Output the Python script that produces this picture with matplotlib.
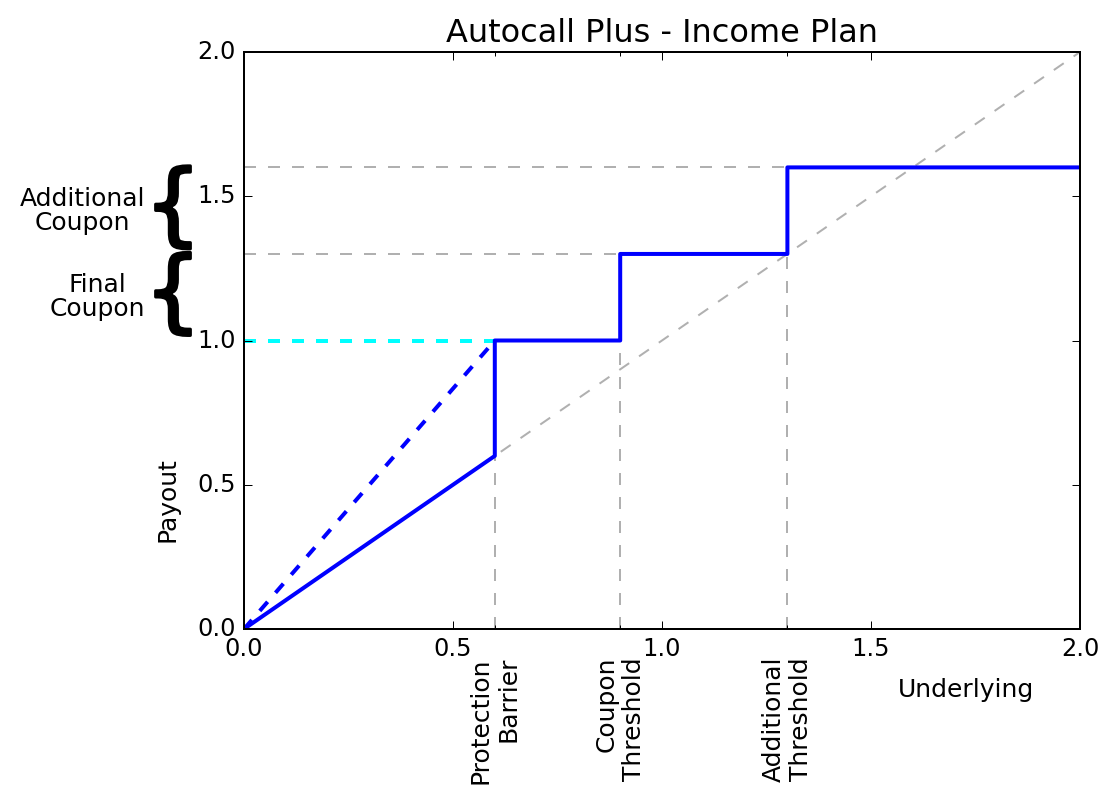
import matplotlib
matplotlib.use("Agg")
import matplotlib.pyplot as plt
import matplotlib.transforms as mtransforms
import matplotlib.patheffects as pe

plt.style.use("classic")

# Payoff profile of the plan
barrier = 0.6
coupon_threshold = 0.9
additional_threshold = 1.3
capital_level = 1.0
final_coupon_level = 1.3
additional_coupon_level = 1.6

payout_x = [0.0, barrier, barrier, coupon_threshold, coupon_threshold,
            additional_threshold, additional_threshold, 2.0]
payout_y = [0.0, barrier, capital_level, capital_level, final_coupon_level,
            final_coupon_level, additional_coupon_level, additional_coupon_level]

protected_x = [0.0, barrier]
protected_y = [0.0, capital_level]

threshold_ticks = [barrier, coupon_threshold, additional_threshold]
threshold_labels = ["Protection\nBarrier", "Coupon\nThreshold", "Additional\nThreshold"]
major_ticks = [0.0, 0.5, 1.0, 1.5, 2.0]

fig = plt.figure(figsize=(1102 / 144, 793 / 144), dpi=144)
fig.patch.set_facecolor("white")
ax = fig.add_axes([244 / 1102, 1 - 629 / 793, 836 / 1102, 577 / 793])

grey = dict(color="#b0b0b0", linestyle="--", linewidth=1.0)

# reference guides
ax.plot([0, 2], [0, 2], **grey)
ax.plot([0, additional_threshold], [additional_coupon_level] * 2, **grey)
ax.plot([0, coupon_threshold], [final_coupon_level] * 2, **grey)
ax.plot([barrier, barrier], [0, barrier], **grey)
ax.plot([coupon_threshold, coupon_threshold], [0, capital_level], **grey)
ax.plot([additional_threshold, additional_threshold], [0, final_coupon_level], **grey)

# payout lines
ax.plot([0, barrier], [capital_level, capital_level], color="cyan",
        linestyle="--", linewidth=2)
ax.plot(protected_x, protected_y, color="blue", linestyle="--", linewidth=2)
ax.plot(payout_x, payout_y, color="blue", linewidth=2)

ax.set_xlim(0, 2)
ax.set_ylim(0, 2)
ax.set_xticks(major_ticks)
ax.set_yticks(major_ticks)
ax.set_xticks(threshold_ticks, minor=True)
ax.set_xticklabels(threshold_labels, minor=True, rotation=90,
                   multialignment="right", fontsize=12.5)
ax.tick_params(axis="x", which="minor", pad=14)

ax.set_title("Autocall Plus - Income Plan", fontsize=16)
ax.set_xlabel("Underlying", fontsize=12.5)
ax.xaxis.set_label_coords((966 - 244) / 836, (629 - 678) / 577)
ax.set_ylabel("Payout", fontsize=12.5)
ax.yaxis.set_label_coords((179 - 244) / 836, (629 - 500) / 577)

# coupon brackets on the left of the axis
trans = mtransforms.blended_transform_factory(ax.transAxes, ax.transData)
brace_style = dict(transform=trans, fontsize=45, ha="center", va="center",
                   clip_on=False,
                   path_effects=[pe.withStroke(linewidth=1.5, foreground="black")])
ax.text((173 - 244) / 836, 1.455, "{", **brace_style)
ax.text((173 - 244) / 836, 1.155, "{", **brace_style)
ax.text((145 - 244) / 836, 1.45, "Additional\nCoupon", transform=trans,
        fontsize=12.5, ha="right", va="center", multialignment="center",
        linespacing=1.0, clip_on=False)
ax.text((145 - 244) / 836, 1.15, "Final\nCoupon", transform=trans,
        fontsize=12.5, ha="right", va="center", multialignment="center",
        linespacing=1.0, clip_on=False)

fig.savefig("out.png", dpi=144)
